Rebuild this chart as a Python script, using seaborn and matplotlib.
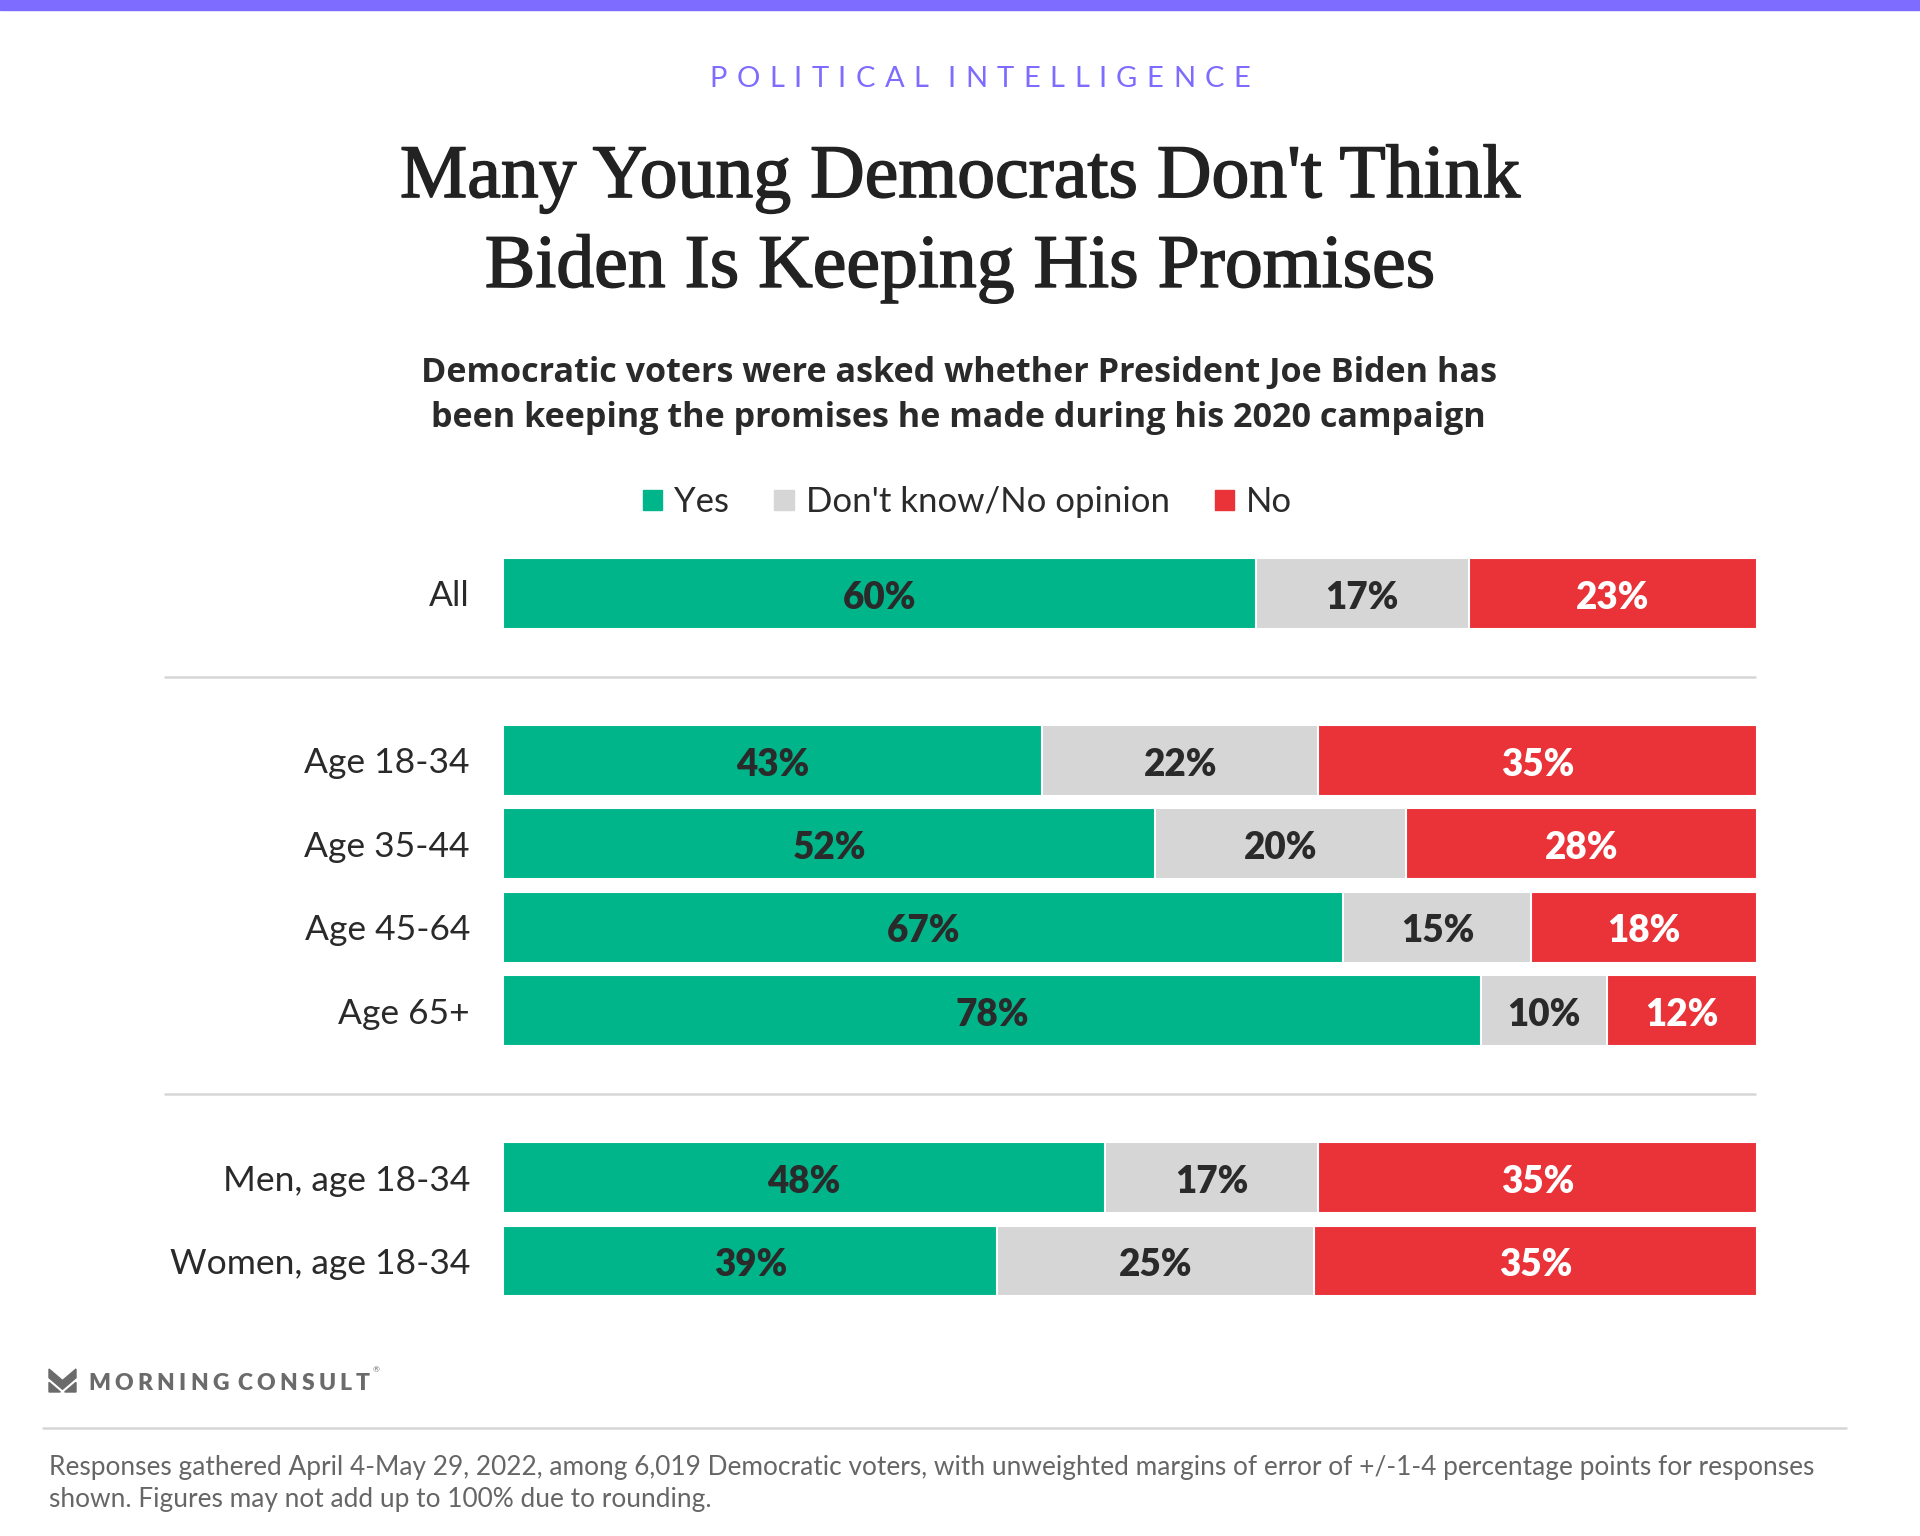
import matplotlib
matplotlib.use("Agg")
import matplotlib.pyplot as plt
import matplotlib.patheffects as pe
from matplotlib.patches import Rectangle, Polygon
import seaborn as sns
import pandas as pd

# ---- data ----
groups = ["All", "Age 18-34", "Age 35-44", "Age 45-64", "Age 65+",
          "Men, age 18-34", "Women, age 18-34"]
yes = [60, 43, 52, 67, 78, 48, 39]
dont_know = [17, 22, 20, 15, 10, 17, 25]
no = [23, 35, 28, 18, 12, 35, 35]
responses = ["Yes", "Don't know/No opinion", "No"]
row_order = ["All", " ", "Age 18-34", "Age 35-44", "Age 45-64", "Age 65+",
             "  ", "Men, age 18-34", "Women, age 18-34"]

kicker = "POLITICAL INTELLIGENCE"
title_lines = ["Many Young Democrats Don't Think", "Biden Is Keeping His Promises"]
subtitle_lines = ["Democratic voters were asked whether President Joe Biden has",
                  "been keeping the promises he made during his 2020 campaign"]
note_lines = ["Responses gathered April 4-May 29, 2022, among 6,019 Democratic voters, with unweighted margins of error of +/-1-4 percentage points for responses",
              "shown. Figures may not add up to 100% due to rounding."]
brand = "MORNING CONSULT"

GREEN, GRAY, RED = "#00B58A", "#D6D6D6", "#E93339"
PURPLE = "#7E6BFF"
DARK = "#2A2A2A"

sns.set_style("white")
plt.rcParams["font.family"] = ["Lato", "DejaVu Sans"]

df = pd.DataFrame({"group": groups, "yes": yes, "dk": dont_know, "no": no})
df["total"] = df["yes"] + df["dk"] + df["no"]
df["end_yes"] = df["yes"] / df["total"] * 100
df["end_dk"] = (df["yes"] + df["dk"]) / df["total"] * 100
df["end_no"] = 100.0 * df["total"] / df["total"]

W, H = 1920, 1536
fig = plt.figure(figsize=(19.2, 15.36), dpi=100)
ax = fig.add_axes([0.2621, 0.1519, 0.6531, 0.4889])

for col, colr in [("end_no", RED), ("end_dk", GRAY), ("end_yes", GREEN)]:
    sns.barplot(data=df, y="group", x=col, order=row_order, color=colr,
                saturation=1, width=0.85, edgecolor="white", linewidth=1.5,
                errorbar=None, orient="h", ax=ax)

# value labels
for _, r in df.iterrows():
    yi = row_order.index(r["group"])
    starts = [0, r["end_yes"], r["end_dk"]]
    ends = [r["end_yes"], r["end_dk"], r["end_no"]]
    vals = [r["yes"], r["dk"], r["no"]]
    cols = [DARK, DARK, "white"]
    for s, e, v, c in zip(starts, ends, vals, cols):
        ax.text((s + e) / 2, yi + 0.05, f"{v}%", ha="center", va="center",
                fontsize=26.5, fontweight="heavy", color=c)

ax.set_xlim(0, 100)
ax.set_ylim(len(row_order) - 0.5, -0.5)
ax.set_xlabel("")
ax.set_ylabel("")
ax.set_xticks([])
ax.tick_params(axis="y", length=0, pad=24, labelsize=25.5, labelcolor=DARK)
for sp in ax.spines.values():
    sp.set_visible(False)

# separators
for sep in [" ", "  "]:
    ax.axhline(row_order.index(sep), xmin=-0.27, xmax=0.998, clip_on=False,
               color=GRAY, lw=1.8)

# top band
fig.patches.append(Rectangle((0, 1 - 10 / H), 1, 10 / H, transform=fig.transFigure,
                             color=PURPLE, zorder=0))

renderer = fig.canvas.get_renderer()


def spaced_text(xc, y, s, target_w, ha="center", **kw):
    widths = []
    for ch in s:
        if ch == " ":
            widths.append(0)
            continue
        t = fig.text(0, 0, ch, **kw)
        widths.append(t.get_window_extent(renderer).width)
        t.remove()
    n = len(s)
    gap = (target_w - sum(widths)) / (n - 1)
    x0 = xc * W - target_w / 2 if ha == "center" else xc * W
    x = x0
    for ch, w in zip(s, widths):
        if ch != " ":
            fig.text(x / W, y, ch, ha="left", va="baseline", **kw)
        x += w + gap


spaced_text(0.5104, 0.9432, kicker, 541, fontsize=21, color=PURPLE)

title_kw = dict(ha="center", va="baseline", fontsize=54.5, color="#222222",
                family=["Liberation Serif", "DejaVu Serif"],
                path_effects=[pe.withStroke(linewidth=1.1, foreground="#222222")])
fig.text(0.5003, 0.8717, title_lines[0], **title_kw)
fig.text(0.5003, 0.8132, title_lines[1], **title_kw)

sub_kw = dict(ha="center", va="baseline", fontsize=24.6, fontweight="bold",
              color=DARK, family=["Open Sans", "Lato", "DejaVu Sans"])
fig.text(0.4994, 0.7515, subtitle_lines[0], **sub_kw)
fig.text(0.4994, 0.7222, subtitle_lines[1], **sub_kw)

handles = [Rectangle((0, 0), 1, 1, color=c) for c in (GREEN, GRAY, RED)]
fig.legend(handles, responses, loc="center", bbox_to_anchor=(0.504, 0.673),
           ncol=3, frameon=False, fontsize=25, handlelength=0.55,
           handleheight=0.55, handletextpad=0.35, columnspacing=1.3,
           labelcolor=DARK)

# brand
gx0, gy0, gw, gh = 49 / W, 1 - 1392 / H, 27 / W, 23 / H
top = [(0, 1), (0.5, 0.5), (1, 1), (1, 0.62), (0.5, 0.12), (0, 0.62)]
left = [(0, 0.42), (0.42, 0.0), (0, 0.0)]
right = [(1, 0.42), (0.58, 0.0), (1, 0.0)]
for poly in (top, left, right):
    fig.patches.append(Polygon([(gx0 + px * gw, gy0 + py * gh) for px, py in poly],
                               closed=True, transform=fig.transFigure,
                               color="#6B6B6B"))
spaced_text(88 / W, 1 - 1390 / H, brand, 282, ha="left", fontsize=16.5,
            fontweight="heavy", color="#6B6B6B")
fig.text(373 / W, 1 - 1372 / H, "®", fontsize=6, color="#6B6B6B")

fig.add_artist(plt.Line2D([0.0223, 0.9617], [0.0702, 0.0702],
                          transform=fig.transFigure, color=GRAY, lw=1.8))

fig.text(0.0255, 0.0400, note_lines[0], ha="left", va="baseline",
         fontsize=18.9, color="#666666")
fig.text(0.0255, 0.0192, note_lines[1], ha="left", va="baseline",
         fontsize=18.9, color="#666666")

fig.savefig("out.png", dpi=100, facecolor="white")
